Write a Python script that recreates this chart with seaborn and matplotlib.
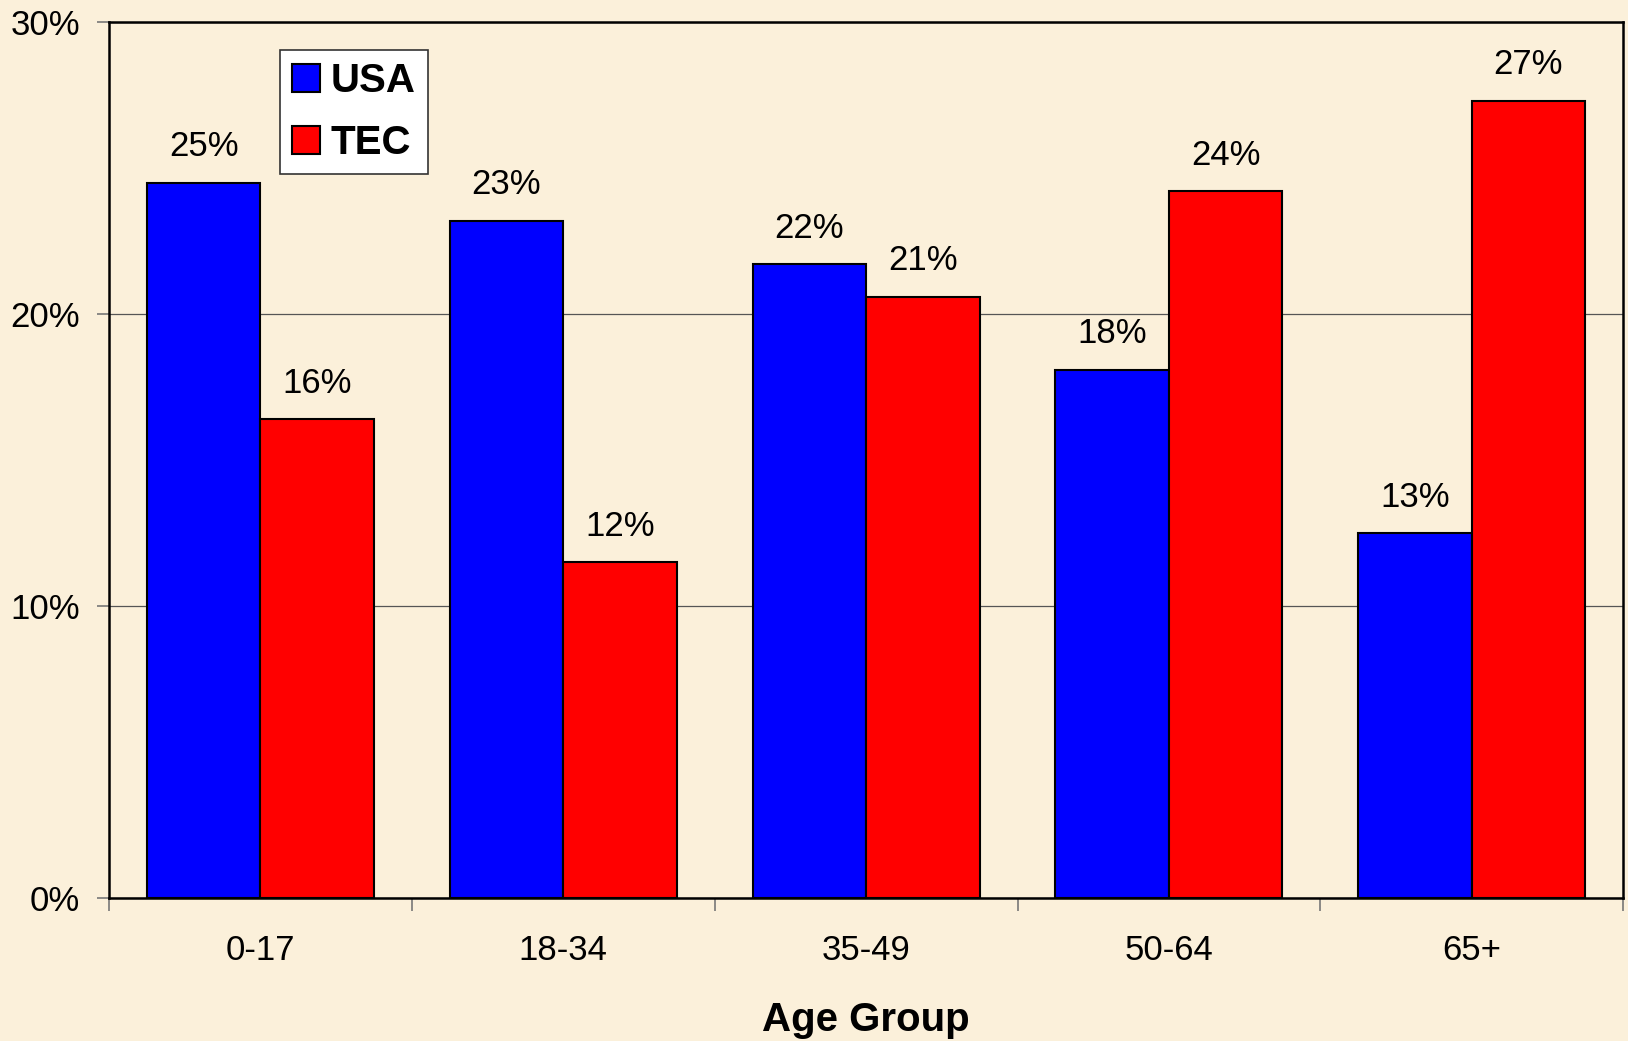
import pandas as pd
import matplotlib
matplotlib.use("Agg")
import matplotlib.pyplot as plt
import seaborn as sns

# data
age_groups = ["0-17", "18-34", "35-49", "50-64", "65+"]
usa = [24.5, 23.2, 21.7, 18.1, 12.5]
tec = [16.4, 11.5, 20.6, 24.2, 27.3]
usa_labels = ["25%", "23%", "22%", "18%", "13%"]
tec_labels = ["16%", "12%", "21%", "24%", "27%"]

df = pd.DataFrame({
    "Age Group": age_groups * 2,
    "Share": usa + tec,
    "Region": ["USA"] * 5 + ["TEC"] * 5,
})

sns.set_style("white")
plt.rcParams["font.family"] = ["Liberation Sans", "DejaVu Sans"]
plt.rcParams["text.color"] = "black"
plt.rcParams["axes.labelcolor"] = "black"

bg = "#FBF0DA"
fig = plt.figure(figsize=(16.28, 10.41), dpi=100, facecolor=bg)
ax = fig.add_axes([0.067, 0.137, 0.930, 0.842])
ax.set_facecolor(bg)

sns.barplot(data=df, x="Age Group", y="Share", hue="Region",
            palette={"USA": "#0000FF", "TEC": "#FF0000"},
            width=0.75, edgecolor="black", linewidth=1.5,
            saturation=1, ax=ax, legend=True)

# value labels
for cont, labs in zip(ax.containers, [usa_labels, tec_labels]):
    ax.bar_label(cont, labels=labs, padding=14, fontsize=25)

ax.set_ylim(0, 30)
ax.set_xlim(-0.5, 4.5)
ax.set_yticks([0, 10, 20, 30])
ax.set_yticklabels(["0%", "10%", "20%", "30%"], fontsize=25)
ax.yaxis.grid(True, color="#555555", linewidth=0.9)
ax.set_axisbelow(True)

# category labels centred, tick marks at the group edges
ax.set_xticks(range(5))
ax.set_xticklabels(age_groups, fontsize=25)
ax.tick_params(axis="x", which="major", bottom=True, length=0, pad=26,
               labelcolor="black")
ax.set_xticks([i - 0.5 for i in range(6)], minor=True)
ax.tick_params(axis="x", which="minor", bottom=True, length=9,
               color="#777777", width=1.2)
ax.tick_params(axis="y", left=True, length=9, color="#777777", width=1.2,
               pad=12, labelcolor="black")

for s in ax.spines.values():
    s.set_visible(True)
    s.set_color("black")
    s.set_linewidth(1.8)

ax.set_ylabel("")
ax.set_xlabel("Age Group", fontsize=29, fontweight="bold", labelpad=24)

leg = ax.legend(loc="upper left", bbox_to_anchor=(0.113, 0.968),
                prop={"size": 29, "weight": "bold"}, frameon=True,
                fancybox=False, edgecolor="#333333", framealpha=1,
                handlelength=0.7, handleheight=0.7, handletextpad=0.25,
                labelspacing=0.6, borderpad=0.3, borderaxespad=0)
leg.get_frame().set_linewidth(1.2)
for h in leg.legend_handles:
    h.set_edgecolor("black")
    h.set_linewidth(1.5)

fig.savefig("out.png", dpi=100, facecolor=bg)
